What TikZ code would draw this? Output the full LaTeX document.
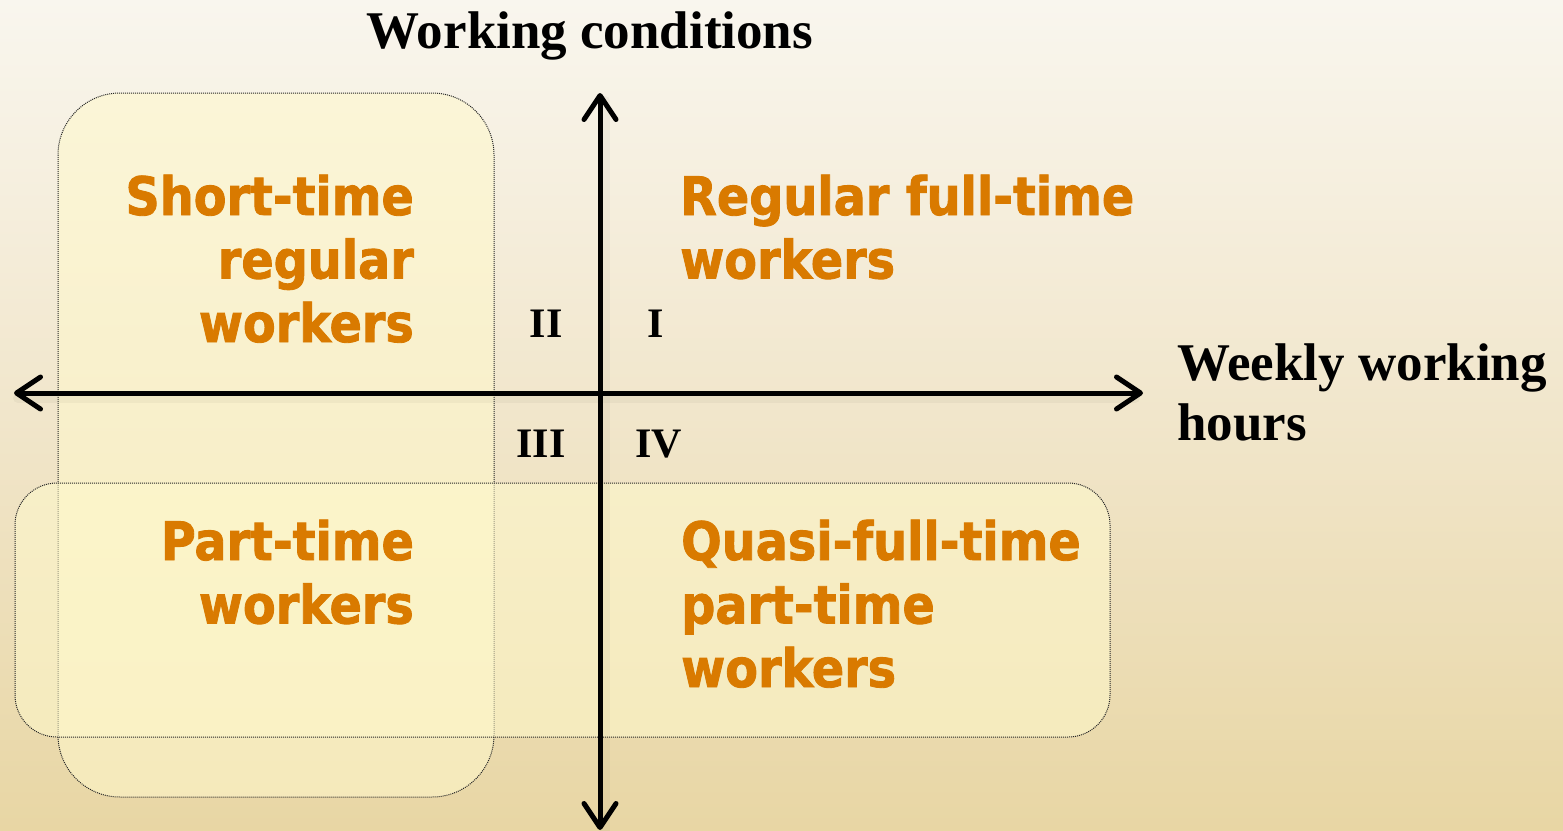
\documentclass[tikz,border=0pt]{standalone}
\usepackage{fontspec}
\setmainfont{Liberation Serif}
\newfontfamily\catfont[BoldFeatures={FakeBold=1.6}]{DejaVu Sans Condensed}
\usetikzlibrary{arrows.meta}
\definecolor{bgtop}{HTML}{F9F6EE}
\definecolor{bgmid}{HTML}{F1E6CB}
\definecolor{bgbot}{HTML}{E8D6A4}
\definecolor{boxfill}{HTML}{FFF9CC}
\definecolor{catorange}{HTML}{D97A00}
\begin{document}
\begin{tikzpicture}[x=1pt,y=-1pt,
  panel/.style={draw=black!85, line width=1pt, dash pattern=on 1pt off 1pt,
    fill=boxfill, fill opacity=0.55, draw opacity=1},
  axis/.style={line width=5pt, line cap=round, draw=black,
    {Straight Barb[length=24pt, width=32pt, round]}-{Straight Barb[length=24pt, width=32pt, round]}},
  axshadow/.style={line width=10pt, draw=black, opacity=0.035, line cap=round},
  cat/.style={font=\catfont\bfseries\fontsize{53}{63.5}\selectfont, text=catorange, inner sep=0pt},
  axlabel/.style={font=\bfseries\fontsize{53}{60}\selectfont, inner sep=0pt},
  quad/.style={font=\bfseries\fontsize{42}{48}\selectfont, inner sep=0pt}]
\useasboundingbox (0,0) rectangle (1563,830);
% background
\shade[top color=bgtop, bottom color=bgbot, middle color=bgmid] (0,0) rectangle (1563,830);
% panels
\path[panel, rounded corners=62pt] (58,93) rectangle (494,797);
\path[panel, rounded corners=42pt] (15,483) rectangle (1110,737);
% axes
\coordinate (xl) at (14,393);
\coordinate (xr) at (1143,393);
\coordinate (yt) at (600,93);
\coordinate (yb) at (600,830);
\draw[axshadow] ([shift={(4,5)}]xl) -- ([shift={(-8,5)}]xr);
\draw[axshadow] ([shift={(5,8)}]yt) -- ([shift={(5,0)}]yb);
\draw[axis] (xl) -- (xr);
\draw[axis] (yb) -- (yt);
% axis labels
\node[axlabel, anchor=base] (wc) at (590,48) {Working conditions};
\node[axlabel, anchor=base west] (wh) at (1177,380)
  {\begin{tabular}[t]{@{}l@{}}Weekly working\\hours\end{tabular}};
% quadrant numbers
\node[quad, anchor=base] (q2) at (546,337) {II};
\node[quad, anchor=base] (q1) at (655.5,337) {I};
\node[quad, anchor=base] (q3) at (541,457) {III};
\node[quad, anchor=base] (q4) at (658.5,457) {IV};
% categories
\node[cat, anchor=base east] (st) at (414,215)
  {\begin{tabular}[t]{@{}r@{}}Short-time\\regular\\workers\end{tabular}};
\node[cat, anchor=base west] (rf) at (680,215)
  {\begin{tabular}[t]{@{}l@{}}Regular full-time\\workers\end{tabular}};
\node[cat, anchor=base east] (pt) at (414,560)
  {\begin{tabular}[t]{@{}r@{}}Part-time\\workers\end{tabular}};
\node[cat, anchor=base west] (qf) at (681,560)
  {\begin{tabular}[t]{@{}l@{}}Quasi-full-time\\part-time\\workers\end{tabular}};
\end{tikzpicture}
\end{document}
